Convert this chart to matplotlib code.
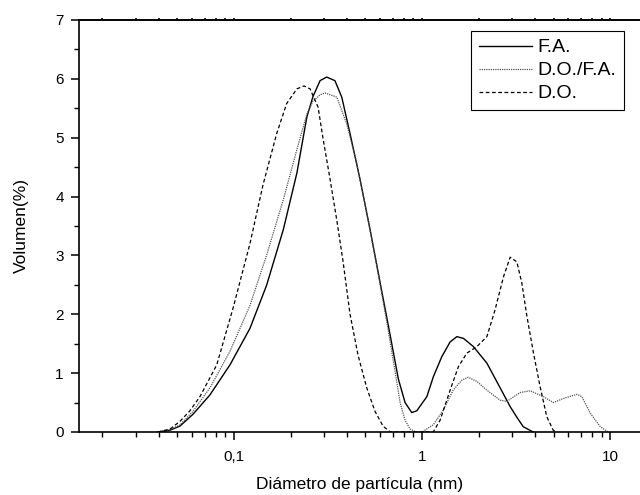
"""Distribución de tamaño de partícula: F.A., D.O./F.A., D.O."""
import matplotlib

matplotlib.use("Agg")
import matplotlib.pyplot as plt
from matplotlib.ticker import FixedLocator, FixedFormatter, LogLocator, MultipleLocator, NullFormatter

plt.rcParams["font.family"] = ["Liberation Sans", "DejaVu Sans"]

# F.A. (línea continua)
d_fa = [0.0394, 0.0457, 0.0516, 0.0605, 0.0745, 0.0952, 0.1216, 0.149, 0.183, 0.216,
        0.244, 0.263, 0.287, 0.311, 0.344, 0.374, 0.414, 0.468, 0.529, 0.598,
        0.676, 0.748, 0.812, 0.881, 0.937, 1.06, 1.148, 1.273, 1.409, 1.53,
        1.66, 1.875, 2.21, 2.60, 2.94, 3.19, 3.45, 3.89]
v_fa = [0.0, 0.03, 0.1, 0.3, 0.63, 1.14, 1.76, 2.49, 3.44, 4.4,
        5.35, 5.7, 5.97, 6.03, 5.97, 5.69, 5.07, 4.29, 3.44, 2.54,
        1.65, 0.9, 0.5, 0.33, 0.36, 0.6, 0.94, 1.28, 1.53, 1.62,
        1.59, 1.45, 1.17, 0.75, 0.43, 0.25, 0.09, 0.0]

# D.O./F.A. (línea punteada)
d_dofa = [0.0394, 0.0457, 0.0516, 0.0605, 0.0745, 0.0952, 0.1216, 0.149, 0.183, 0.216,
          0.244, 0.263, 0.287, 0.305, 0.352, 0.397, 0.449, 0.508, 0.574, 0.649,
          0.718, 0.764, 0.812, 0.863, 0.929, 1.0, 1.145, 1.294, 1.462, 1.626,
          1.757, 1.954, 2.21, 2.60, 2.82, 3.32, 3.75, 4.42, 4.99, 5.65,
          6.65, 7.07, 7.83, 8.85, 9.75]
v_dofa = [0.0, 0.04, 0.12, 0.35, 0.75, 1.37, 2.15, 3.0, 3.95, 4.8,
          5.4, 5.62, 5.73, 5.76, 5.69, 5.24, 4.57, 3.72, 2.83, 1.87,
          1.03, 0.5, 0.2, 0.05, 0.0, 0.0, 0.12, 0.37, 0.71, 0.88,
          0.93, 0.86, 0.71, 0.54, 0.52, 0.67, 0.70, 0.6, 0.5, 0.57,
          0.64, 0.6, 0.32, 0.09, 0.0]

# D.O. (línea discontinua)
d_do = [0.0394, 0.0457, 0.0516, 0.0583, 0.0659, 0.081, 0.0988, 0.1216, 0.1427, 0.1687,
        0.1906, 0.216, 0.2357, 0.2537, 0.280, 0.297, 0.324, 0.352, 0.380, 0.414,
        0.457, 0.508, 0.562, 0.620, 0.676, 1.145, 1.247, 1.409, 1.56, 1.73,
        1.954, 2.21, 2.44, 2.71, 2.94, 3.19, 3.39, 3.61, 3.91, 4.24,
        4.60, 4.98, 5.22]
v_do = [0.0, 0.05, 0.18, 0.36, 0.6, 1.14, 2.1, 3.2, 4.2, 5.07,
        5.58, 5.83, 5.88, 5.83, 5.52, 5.0, 4.3, 3.6, 2.9, 2.0,
        1.3, 0.75, 0.35, 0.1, 0.0, 0.0, 0.2, 0.71, 1.11, 1.34,
        1.45, 1.62, 2.07, 2.64, 2.97, 2.89, 2.53, 1.96, 1.34, 0.77,
        0.26, 0.03, 0.0]

x_ticks = [0.1, 1, 10]
x_tick_labels = ["0,1", "1", "10"]


def main():
    fig = plt.figure(figsize=(6.4, 4.95), dpi=100)
    ax = fig.add_axes([0.1234, 0.1273, 0.8766, 0.8323])

    ax.plot(d_fa, v_fa, color="black", lw=1.0, ls="-", label="F.A.")
    ax.plot(d_dofa, v_dofa, color="#555555", lw=0.9, ls=(0, (1, 0.8)), label="D.O./F.A.")
    ax.plot(d_do, v_do, color="black", lw=0.9, ls=(0, (3, 2)), label="D.O.")

    ax.set_xscale("log")
    ax.set_xlim(0.015, 14.4)
    ax.set_ylim(0, 7)

    ax.xaxis.set_major_locator(FixedLocator(x_ticks))
    ax.xaxis.set_major_formatter(FixedFormatter(x_tick_labels))
    ax.xaxis.set_minor_locator(LogLocator(base=10, subs=range(2, 10)))
    ax.xaxis.set_minor_formatter(NullFormatter())
    ax.yaxis.set_major_locator(MultipleLocator(1))
    ax.yaxis.set_minor_locator(MultipleLocator(0.5))

    ax.tick_params(which="major", direction="out", length=6, width=1.1, labelsize=11, pad=5)
    ax.tick_params(which="minor", direction="out", length=3.5, width=1.0)
    ax.tick_params(axis="x", which="major", pad=7)

    # marcas pequeñas en el eje superior
    top = ax.secondary_xaxis("top")
    top.xaxis.set_major_locator(FixedLocator(x_ticks))
    top.xaxis.set_minor_locator(LogLocator(base=10, subs=range(2, 10)))
    top.xaxis.set_major_formatter(NullFormatter())
    top.xaxis.set_minor_formatter(NullFormatter())
    top.tick_params(which="both", direction="out", length=1.2, width=1.2)
    top.spines["top"].set_linewidth(1.2)

    ax.spines["right"].set_visible(False)
    for s in ["left", "bottom", "top"]:
        ax.spines[s].set_linewidth(1.2)

    ax.set_xlabel("Diámetro de partícula (nm)", fontsize=12.5, labelpad=9)
    ax.set_ylabel("Volumen(%)", fontsize=12.5, labelpad=19)

    leg = ax.legend(loc="upper right", bbox_to_anchor=(0.9715, 0.9733), borderaxespad=0,
                    fontsize=14, fancybox=False, framealpha=1, edgecolor="black",
                    handlelength=2.7, handletextpad=0.3, labelspacing=0.28,
                    borderpad=0.4)
    leg.get_frame().set_linewidth(0.8)

    fig.savefig("out.png", dpi=100)
    plt.close(fig)


if __name__ == "__main__":
    main()
